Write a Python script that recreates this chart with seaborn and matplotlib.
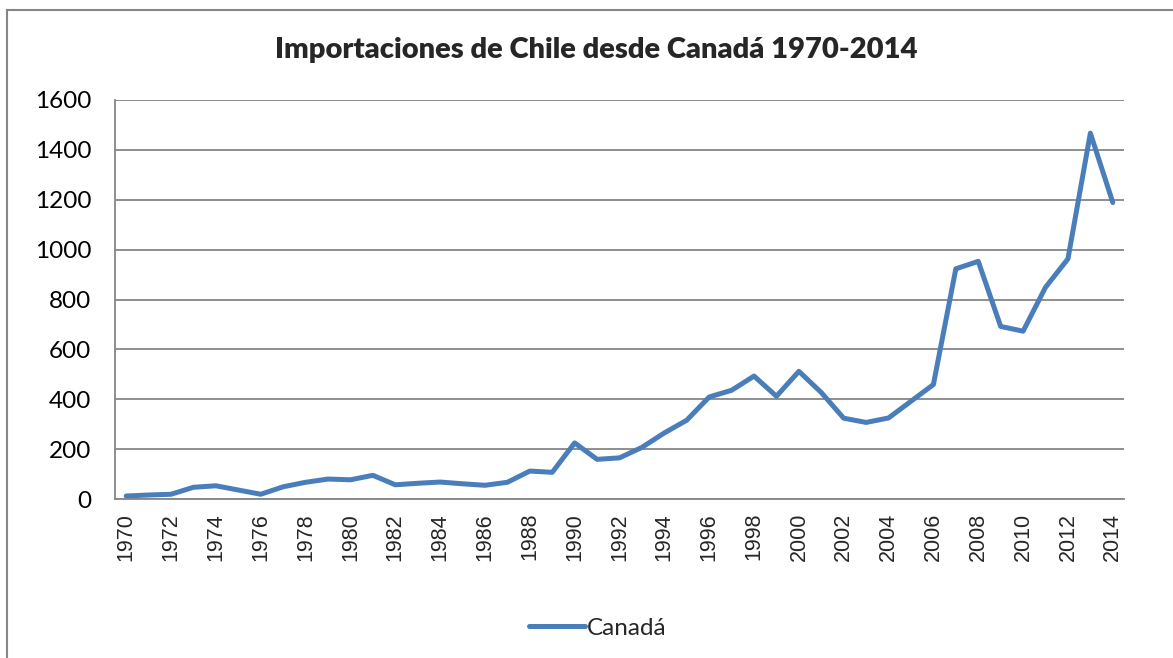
import matplotlib
matplotlib.use("Agg")
import matplotlib.pyplot as plt
import matplotlib.patches as mpatches
import numpy as np
import pandas as pd
import seaborn as sns

# Importaciones de Chile desde Canadá
years = list(range(1970, 2015))
values = [12, 16, 19, 47, 53, 36, 19, 49, 67, 80,
          77, 95, 57, 63, 68, 61, 55, 67, 112, 107,
          225, 159, 165, 207, 265, 316, 409, 436, 493, 412,
          512, 427, 324, 307, 325, 392, 459, 923, 953, 692,
          673, 849, 963, 1467, 1189]
series_name = "Canadá"
title = "Importaciones de Chile desde Canadá 1970-2014"
yticks = [0, 200, 400, 600, 800, 1000, 1200, 1400, 1600]

df = pd.DataFrame({"Año": years, "Valor": values, "Serie": series_name})

sns.set_style("white")
plt.rcParams["font.family"] = ["Lato", "DejaVu Sans"]

grey = "#868686"
blue = "#4A7EBB"

fig = plt.figure(figsize=(11.73, 6.58), dpi=100)
ax = fig.add_axes([115 / 1173, 1 - 499 / 658, (1124 - 115) / 1173, 399 / 658])

sns.lineplot(data=df, x="Año", y="Valor", hue="Serie", palette=[blue],
             linewidth=3.6, ax=ax, legend=True)

ax.set_xlim(years[0] - 0.5, years[-1] + 0.5)
ax.set_ylim(0, 1600)
ax.set_yticks(yticks)
ax.set_yticklabels([str(v) for v in yticks], fontsize=17.5, family=["Lato", "DejaVu Sans"])
ax.yaxis.grid(True, color=grey, linewidth=1.3)
ax.set_axisbelow(True)

# x ticks: labels every two years at centres, tick marks at category boundaries
ax.set_xticks(years[::2])
ax.set_xticklabels([str(y) for y in years[::2]], rotation=90, fontsize=15.5,
                   family=["Liberation Sans", "DejaVu Sans"])
ax.set_xticks(np.arange(years[0] - 0.5, years[-1] + 1, 1), minor=True)
ax.tick_params(axis="x", which="major", length=0, pad=10)
ax.tick_params(axis="x", which="minor", length=6, width=1.3, color=grey, direction="out")
ax.tick_params(axis="y", which="major", length=6, width=1.3, color=grey,
               direction="out", pad=11, labelcolor="black")

for s in ["top", "right"]:
    ax.spines[s].set_visible(False)
for s in ["left", "bottom"]:
    ax.spines[s].set_color(grey)
    ax.spines[s].set_linewidth(1.3)

ax.set_xlabel("")
ax.set_ylabel("")

fig.text(596 / 1173, 1 - 50 / 658, title, ha="center", va="center",
         fontsize=21, fontweight="heavy", family=["Lato", "DejaVu Sans"])

handles, labels = ax.get_legend_handles_labels()
ax.legend(handles, labels, loc="center", bbox_to_anchor=(598 / 1173, 1 - 628 / 658),
          bbox_transform=fig.transFigure, frameon=False, fontsize=17.5,
          handlelength=2.3, handletextpad=0.1)

# outer chart border (cut off at right and bottom like the reference)
border = mpatches.Rectangle((7 / 1173, -0.1), 1.2, 1.1 - 10 / 658,
                            transform=fig.transFigure, fill=False,
                            edgecolor=grey, linewidth=1.5)
fig.patches.append(border)

fig.savefig("out.png", dpi=100)
